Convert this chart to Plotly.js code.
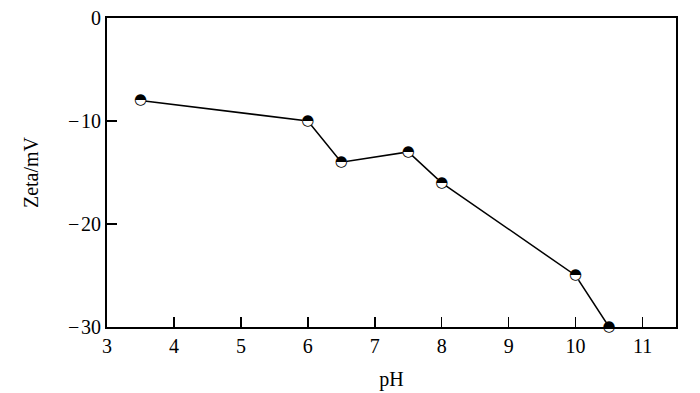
<!DOCTYPE html>
<html>
<head>
<meta charset="utf-8">
<script src="https://cdn.plot.ly/plotly-3.0.1.min.js"></script>
<style>html,body{margin:0;padding:0;background:#fff;}#chart{width:700px;height:393px;}</style>
</head>
<body>
<div id="chart"></div>
<script>
const pH = [3.5, 6, 6.5, 7.5, 8, 10, 10.5];
const zeta = [-8, -10, -14, -13, -16, -25, -30];
const xTicks = [3, 4, 5, 6, 7, 8, 9, 10, 11];
const yTicks = [-30, -20, -10, 0];
const yTickLabels = ['\u2212\u200a30', '\u2212\u200a20', '\u2212\u200a10', '0'];

const FONT = '"Times New Roman", "Liberation Serif", serif';

const lineTrace = {
  x: pH, y: zeta, mode: 'lines+markers', type: 'scatter',
  line: {color: '#000', width: 1.5},
  marker: {symbol: 'circle', size: 11, color: '#fff', line: {color: '#000', width: 0}},
  cliponaxis: false, hoverinfo: 'skip'
};
const halfTrace = {
  x: pH, y: zeta, mode: 'text', type: 'scatter',
  text: pH.map(() => '\u25D3'),
  textposition: 'middle center',
  textfont: {family: 'DejaVu Sans', size: 15, weight: 'bold', color: '#000'},
  cliponaxis: false, hoverinfo: 'skip'
};

const axisCommon = {
  showline: true, linecolor: '#000', linewidth: 2, mirror: true,
  ticks: 'inside', ticklen: 10, tickwidth: 1.5, tickcolor: '#000',
  showgrid: false, zeroline: false,
  tickfont: {family: FONT, size: 20, color: '#000'}
};

const layout = {
  width: 700, height: 393,
  margin: {l: 107, r: 24, t: 18, b: 66},
  paper_bgcolor: '#fff', plot_bgcolor: '#fff',
  showlegend: false,
  xaxis: Object.assign({}, axisCommon, {
    range: [3, 11.5], tickvals: xTicks, ticktext: xTicks.map(String),
    title: {text: 'pH', font: {family: FONT, size: 20, color: '#000'}, standoff: 16}
  }),
  yaxis: Object.assign({}, axisCommon, {
    range: [-30, 0], tickvals: yTicks, ticktext: yTickLabels,
    title: {text: 'Zeta/mV', font: {family: FONT, size: 20, color: '#000'}, standoff: 24}
  })
};

Plotly.newPlot('chart', [lineTrace, halfTrace], layout, {staticPlot: true, displayModeBar: false});
</script>
</body>
</html>
